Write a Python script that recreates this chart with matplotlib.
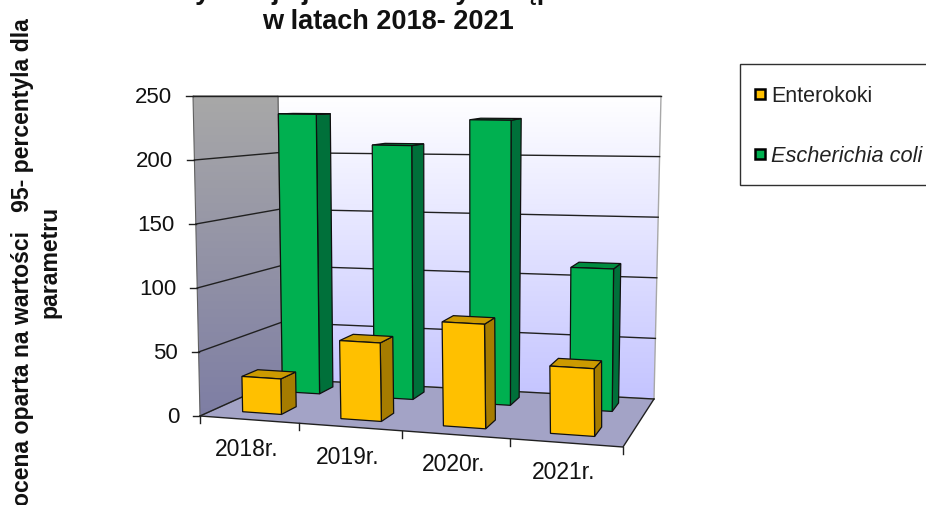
import numpy as np
import matplotlib
matplotlib.use('Agg')
import matplotlib.pyplot as plt
from matplotlib.patches import Polygon, Rectangle

plt.rcParams['font.family'] = ['Liberation Sans', 'DejaVu Sans']

# data
years = ['2018r.', '2019r.', '2020r.', '2021r.']
enterokoki = [28, 61, 80, 51]
e_coli = [235, 210, 232, 114]
y_ticks = [0, 50, 100, 150, 200, 250]

YELLOW = '#FFC000'
YELLOW_TOP = '#CC9A00'
YELLOW_SIDE = '#A67C00'
GREEN = '#00B050'
GREEN_TOP = '#008C40'
GREEN_SIDE = '#00703A'

# corners of the 3d box in pixels: (x, z, y) -> left/right, front/back, bottom/top
corners = {
    (0, 0, 0): (200, 417), (1, 0, 0): (623, 448),
    (0, 1, 0): (282, 380), (1, 1, 0): (654, 400),
    (0, 0, 1): (193, 97), (1, 0, 1): (619, 108),
    (0, 1, 1): (278, 97), (1, 1, 1): (661, 97),
}


def project(cat, depth, val):
    # category axis has a little perspective
    u = cat / 4
    k = 1.09
    u = u / (u + k * (1 - u)) if cat > 0 else 0.0
    v = val / 250
    p = np.zeros(2)
    for (a, b, c), xy in corners.items():
        w = (u if a else 1 - u) * (depth if b else 1 - depth) * (v if c else 1 - v)
        p += w * np.array(xy)
    return p


fig = plt.figure(figsize=(9.26, 5.06), dpi=100)
ax = fig.add_axes([0, 0, 1, 1])
ax.set_xlim(0, 926)
ax.set_ylim(506, 0)
ax.axis('off')


def gradient_poly(pts, top, bottom):
    poly = Polygon(pts, closed=True, fc='none', ec='none', transform=ax.transData)
    ax.add_patch(poly)
    g = np.linspace(0, 1, 256)[:, None, None]
    img = (1 - g) * np.array(top)[None, None, :] + g * np.array(bottom)[None, None, :]
    ys = [p[1] for p in pts]
    xs = [p[0] for p in pts]
    im = ax.imshow(img / 255, extent=[min(xs), max(xs), max(ys), min(ys)], aspect='auto', zorder=1)
    im.set_clip_path(poly)
    ax.set_xlim(0, 926)
    ax.set_ylim(506, 0)


# walls and floor
back = [project(0, 1, 250), project(4, 1, 250), project(4, 1, 0), project(0, 1, 0)]
side = [project(0, 0, 250), project(0, 1, 250), project(0, 1, 0), project(0, 0, 0)]
floor = [project(0, 0, 0), project(4, 0, 0), project(4, 1, 0), project(0, 1, 0)]
gradient_poly(back, (255, 255, 255), (196, 196, 255))
gradient_poly(side, (168, 168, 168), (126, 126, 164))
ax.add_patch(Polygon(floor, closed=True, fc='#A3A3C6', ec='none', zorder=2))
ax.add_patch(Polygon(back, closed=True, fc='none', ec='#A8A8A8', lw=1, zorder=2))
ax.add_patch(Polygon(side, closed=True, fc='none', ec='#606060', lw=0.8, zorder=2))

# gridlines on the two walls
for t in y_ticks:
    a, b, c = project(0, 0, t), project(0, 1, t), project(4, 1, t)
    ax.plot([a[0], b[0], c[0]], [a[1], b[1], c[1]], color='#202020', lw=1, zorder=2.5)
    ax.plot([a[0] - 7, a[0]], [a[1], a[1]], color='#202020', lw=1, zorder=2.5)
    ax.text(a[0] - 21, a[1] + 0.5, str(t), ha='right', va='center', fontsize=16, color='#111111')

# floor edges and category ticks
f0, f1, f2 = project(0, 0, 0), project(4, 0, 0), project(4, 1, 0)
ax.plot([f0[0], f1[0], f2[0]], [f0[1], f1[1], f2[1]], color='#202020', lw=1, zorder=2.5)
for i in range(5):
    p = project(i, 0, 0)
    ax.plot([p[0], p[0]], [p[1], p[1] + 7], color='#202020', lw=1, zorder=2.5)
for i, name in enumerate(years):
    p = project(i + 0.5, 0, 0)
    ax.text(p[0] - 2, p[1] + 29, name, ha='center', va='center', fontsize=16.5, color='#111111')


def bar3d(cat, val, c0, c1, z0, z1, front, top, sidec, zo):
    pts = lambda c, z, v: project(cat + c, z, v)
    side_face = [pts(c1, z0, 0), pts(c1, z1, 0), pts(c1, z1, val), pts(c1, z0, val)]
    top_face = [pts(c0, z0, val), pts(c1, z0, val), pts(c1, z1, val), pts(c0, z1, val)]
    front_face = [pts(c0, z0, 0), pts(c1, z0, 0), pts(c1, z0, val), pts(c0, z0, val)]
    ax.add_patch(Polygon(side_face, closed=True, fc=sidec, ec='#101010', lw=0.9, zorder=zo))
    ax.add_patch(Polygon(top_face, closed=True, fc=top, ec='#101010', lw=0.9, zorder=zo))
    ax.add_patch(Polygon(front_face, closed=True, fc=front, ec='#101010', lw=0.9, zorder=zo))


for i in range(4):
    bar3d(i, e_coli[i], 0.28, 0.69, 0.70, 0.88, GREEN, GREEN_TOP, GREEN_SIDE, 3)
for i in range(4):
    bar3d(i, enterokoki[i], 0.30, 0.70, 0.17, 0.37, YELLOW, YELLOW_TOP, YELLOW_SIDE, 4)

# titles, first line is cut by the image edge like in the source
ax.text(388, -1, 'Klasyfikacja jakości wody w kąpielisku', ha='center', va='baseline',
        fontsize=19.5, fontweight='bold', color='#111111')
ax.text(388, 29, 'w latach 2018- 2021', ha='center', va='baseline',
        fontsize=19.5, fontweight='bold', color='#111111')
ax.text(36, 506, 'ocena oparta na wartości   95- percentyla dla\nparametru', rotation=90,
        ha='center', va='bottom', multialignment='center', fontsize=16.6, fontweight='bold',
        color='#111111', linespacing=1.25)

# legend
ax.add_patch(Rectangle((740, 65), 200, 121, fc='white', ec='#303030', lw=1, zorder=3))
for yy, col in [(95, YELLOW), (155, GREEN)]:
    ax.add_patch(Rectangle((755, yy - 5), 10, 10, fc=col, ec='black', lw=1.8, zorder=4))
ax.text(771, 96, 'Enterokoki', ha='left', va='center', fontsize=15.5, color='#222222', zorder=4)
ax.text(771, 156, 'Escherichia coli', ha='left', va='center', fontsize=15.7, style='italic', color='#222222', zorder=4)

fig.savefig('out.png', dpi=100)
